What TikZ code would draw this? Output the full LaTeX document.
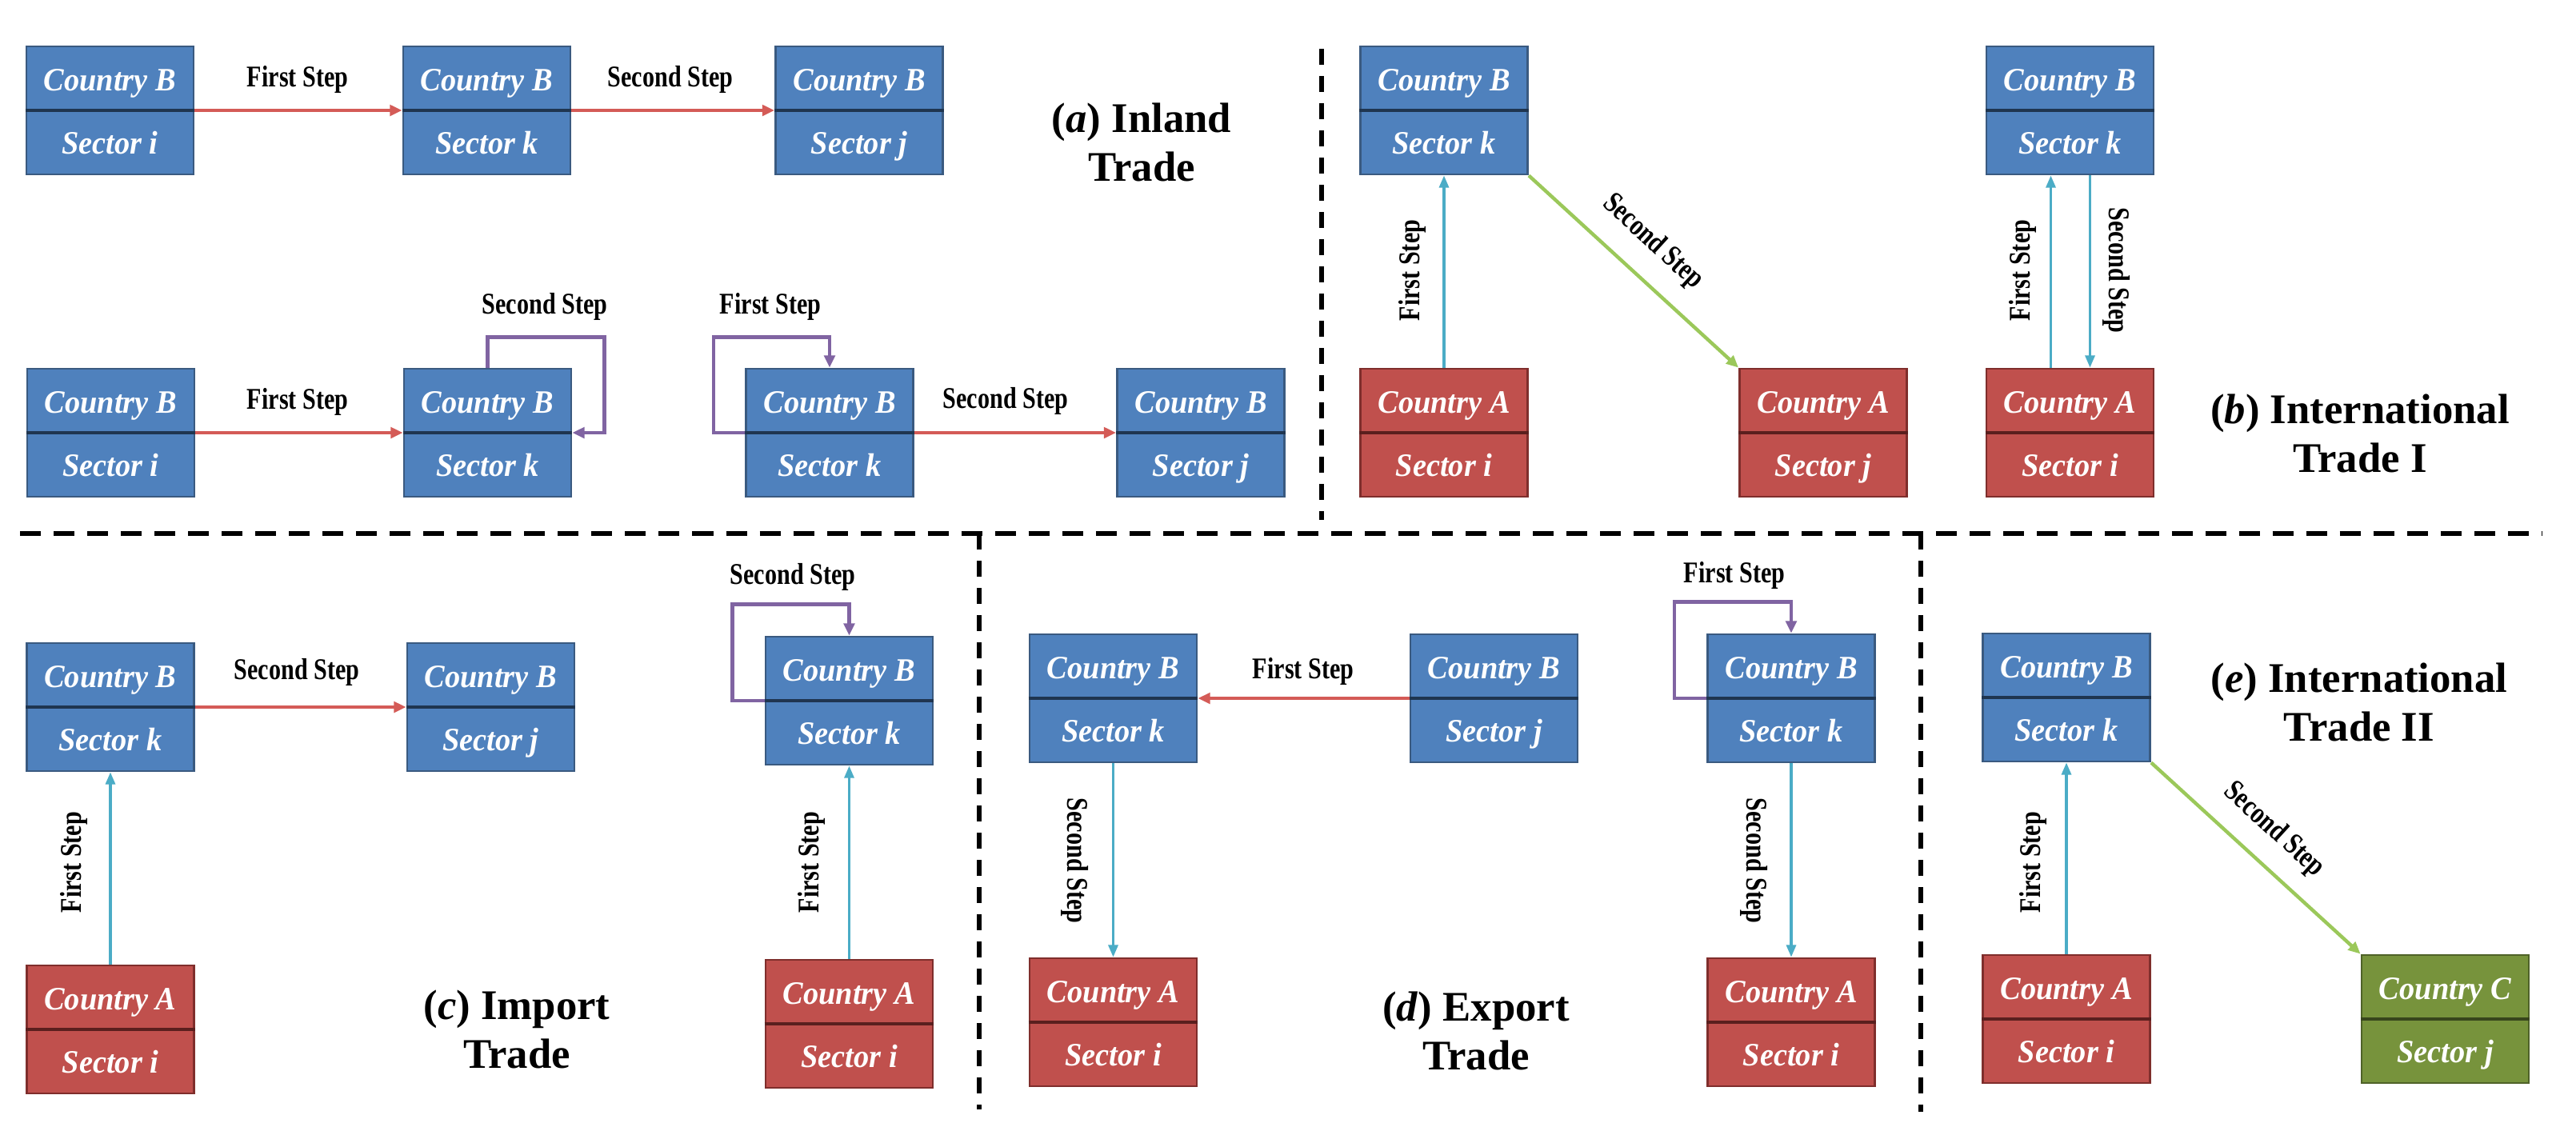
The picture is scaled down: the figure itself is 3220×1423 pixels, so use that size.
\documentclass[tikz,border=0pt]{standalone}
\usepackage{fontspec}
\usepackage{graphicx}
\setmainfont{Liberation Serif}
\usetikzlibrary{arrows.meta,calc}
\definecolor{bluefill}{HTML}{4F81BD}
\definecolor{blueedge}{HTML}{3A5A80}
\definecolor{bluediv}{HTML}{1F3550}
\definecolor{redfill}{HTML}{C0504D}
\definecolor{rededge}{HTML}{7F2E2C}
\definecolor{reddiv}{HTML}{5A1F1E}
\definecolor{greenfill}{HTML}{77933C}
\definecolor{greenedge}{HTML}{4F6228}
\definecolor{greendiv}{HTML}{37451C}
\definecolor{arrred}{HTML}{D45B57}
\definecolor{arrcyan}{HTML}{4BACC6}
\definecolor{arrgreen}{HTML}{9BC85A}
\definecolor{arrpurple}{HTML}{8064A2}
\newcommand{\stp}[1]{\scalebox{0.8}[1]{#1}}
\newcommand{\bxt}[1]{\scalebox{0.94}[1]{#1}}
\tikzset{
  tbox/.style={rectangle, minimum width=2.09cm, minimum height=1.6cm, inner sep=0pt, line width=0.8pt,
    align=center, text=white, font=\bfseries\itshape\fontsize{11.6}{22.4}\selectfont,
    text height=1.14cm, text depth=0.06cm},
  steplbl/.style={font=\bfseries\fontsize{10.7}{12}\selectfont, inner sep=0pt},
  titlelbl/.style={font=\bfseries\fontsize{15}{17.5}\selectfont, align=center, inner sep=0pt},
  redarr/.style={draw=arrred, line width=1.2pt, -{Triangle[length=4.3pt,width=3.8pt]}},
  cyanarr/.style={draw=arrcyan, line width=0.9pt, -{Triangle[length=4.3pt,width=3.4pt]}},
  greenarr/.style={draw=arrgreen, line width=1.25pt, -{Triangle[length=4.3pt,width=3.8pt]}},
  purparr/.style={draw=arrpurple, line width=1.2pt, -{Triangle[length=4.3pt,width=3.8pt]}},
  hdash/.style={line width=1.5pt, dash pattern=on 0.26cm off 0.16cm},
  vdash/.style={line width=1.5pt, dash pattern=on 0.2cm off 0.14cm},
}
% #1 name, #2 centre, #3 colour prefix, #4 top text, #5 bottom text
\newcommand{\tradebox}[5]{%
  \node[tbox, fill=#3fill, draw=#3edge] (#1) at (#2) {\bxt{#4}\\\bxt{#5}};
  \draw[draw=#3div, line width=1.2pt] (#1.west) -- (#1.east);
}
\begin{document}
\begin{tikzpicture}[x=0.01cm, y=-0.01cm]
\fill[white] (0,0) rectangle (3220,1423);
\useasboundingbox (0,0) rectangle (3220,1423);

% ---------- dashed separators ----------
\draw[vdash] (1652,61) -- (1652,650);
\draw[hdash] (25,667) -- (3178,667);
\draw[vdash] (1224,667) -- (1224,1387);
\draw[vdash] (2401,667) -- (2401,1390);

% ---------- (a) Inland trade ----------
\tradebox{a1}{137.5,138}{blue}{Country B}{Sector i}
\tradebox{a2}{608.5,138}{blue}{Country B}{Sector k}
\tradebox{a3}{1074,138}{blue}{Country B}{Sector j}
\tradebox{a4}{138.5,541}{blue}{Country B}{Sector i}
\tradebox{a5}{609.5,541}{blue}{Country B}{Sector k}
\tradebox{a6}{1037,541}{blue}{Country B}{Sector k}
\tradebox{a7}{1501,541}{blue}{Country B}{Sector j}

\draw[redarr] (a1.east) -- (a2.west);
\draw[redarr] (a2.east) -- (a3.west);
\draw[redarr] (a4.east) -- (a5.west);
\draw[purparr] (a5.north) -- ++(0,-38) -| ($(a5.east)+(40,0)$) -- (a5.east);
\draw[purparr] (a6.west) -- ++(-39,0) |- ($(a6.north)+(0,-38)$) -- (a6.north);
\draw[redarr] (a6.east) -- (a7.west);

\node[steplbl] (la1) at (372,99.5) {\stp{First Step}};
\node[steplbl] (la2) at (838,99.5) {\stp{Second Step}};
\node[steplbl] (la3) at (372,502) {\stp{First Step}};
\node[steplbl] (la4) at (681,383.5) {\stp{Second Step}};
\node[steplbl] (la5) at (963,383.5) {\stp{First Step}};
\node[steplbl] (la6) at (1257,501) {\stp{Second Step}};

\node[titlelbl] (ta) at (1427,178) {(\textit{a}) Inland\\Trade};

% ---------- (b) International trade I ----------
\tradebox{b1}{1805,138}{blue}{Country B}{Sector k}
\tradebox{b2}{1805,541}{red}{Country A}{Sector i}
\tradebox{b3}{2279,541}{red}{Country A}{Sector j}
\tradebox{b4}{2587.5,138}{blue}{Country B}{Sector k}
\tradebox{b5}{2587.5,541}{red}{Country A}{Sector i}

\draw[cyanarr] (b2.north) -- (b1.south);
\draw[greenarr] (b1.south east) -- node[steplbl, sloped, pos=0.48, above=0.24cm] (lb2) {\stp{Second Step}} (b3.north west);
\draw[cyanarr] ($(b5.north)+(-24,0)$) -- ($(b4.south)+(-24,0)$);
\draw[cyanarr] ($(b4.south)+(25,0)$) -- ($(b5.north)+(25,0)$);

\node[steplbl, rotate=90] (lb1) at (1765,338) {\stp{First Step}};
\node[steplbl, rotate=90] (lb3) at (2528,338) {\stp{First Step}};
\node[steplbl, rotate=-90] (lb4) at (2646,338) {\stp{Second Step}};

\node[titlelbl] (tb) at (2950,542) {(\textit{b}) International\\Trade I};

% ---------- (c) Import trade ----------
\tradebox{c1}{138,884}{blue}{Country B}{Sector k}
\tradebox{c2}{613.5,884}{blue}{Country B}{Sector j}
\tradebox{c3}{138,1287}{red}{Country A}{Sector i}
\tradebox{c4}{1061.5,876}{blue}{Country B}{Sector k}
\tradebox{c5}{1061.5,1280}{red}{Country A}{Sector i}

\draw[redarr] (c1.east) -- (c2.west);
\draw[cyanarr] (c3.north) -- (c1.south);
\draw[purparr] (c4.west) -- ++(-40,0) |- ($(c4.north)+(0,-39)$) -- (c4.north);
\draw[cyanarr] (c5.north) -- (c4.south);

\node[steplbl] (lc1) at (371,840) {\stp{Second Step}};
\node[steplbl, rotate=90] (lc2) at (92,1078) {\stp{First Step}};
\node[steplbl] (lc3) at (991,721) {\stp{Second Step}};
\node[steplbl, rotate=90] (lc4) at (1014,1078) {\stp{First Step}};

\node[titlelbl] (tc) at (646,1287) {(\textit{c}) Import\\Trade};

% ---------- (d) Export trade ----------
\tradebox{d1}{1391.5,873}{blue}{Country B}{Sector k}
\tradebox{d2}{1867.5,873}{blue}{Country B}{Sector j}
\tradebox{d3}{1391.5,1278}{red}{Country A}{Sector i}
\tradebox{d4}{2239,873}{blue}{Country B}{Sector k}
\tradebox{d5}{2239,1278}{red}{Country A}{Sector i}

\draw[redarr] (d2.west) -- (d1.east);
\draw[cyanarr] (d1.south) -- (d3.north);
\draw[purparr] (d4.west) -- ++(-40,0) |- ($(d4.north)+(0,-39)$) -- (d4.north);
\draw[cyanarr] (d4.south) -- (d5.north);

\node[steplbl] (ld1) at (1629,839) {\stp{First Step}};
\node[steplbl, rotate=-90] (ld2) at (1344,1076) {\stp{Second Step}};
\node[steplbl] (ld3) at (2168,719) {\stp{First Step}};
\node[steplbl, rotate=-90] (ld4) at (2193,1076) {\stp{Second Step}};

\node[titlelbl] (td) at (1845,1289) {(\textit{d}) Export\\Trade};

% ---------- (e) International trade II ----------
\tradebox{e1}{2583,872}{blue}{Country B}{Sector k}
\tradebox{e2}{2583,1274}{red}{Country A}{Sector i}
\tradebox{e3}{3056.5,1274}{green}{Country C}{Sector j}

\draw[cyanarr] (e2.north) -- (e1.south);
\draw[greenarr] (e1.south east) -- node[steplbl, sloped, pos=0.48, above=0.22cm] (le2) {\stp{Second Step}} (e3.north west);

\node[steplbl, rotate=90] (le1) at (2541,1078) {\stp{First Step}};

\node[titlelbl] (te) at (2949,878) {(\textit{e}) International\\Trade II};
\end{tikzpicture}
\end{document}
